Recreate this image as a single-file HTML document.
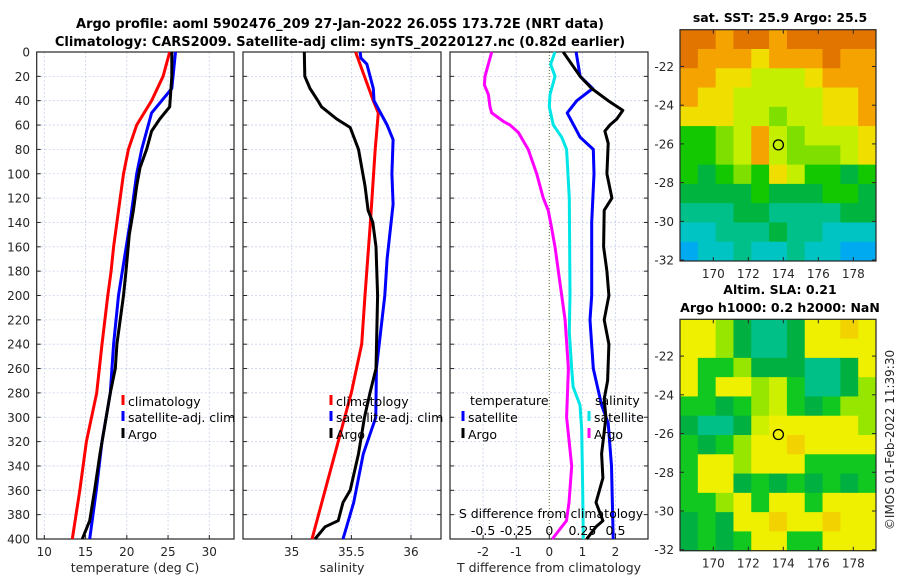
<!DOCTYPE html>
<html><head><meta charset="utf-8">
<style>
html,body{margin:0;padding:0;background:#fff;}
svg{display:block;font-family:"DejaVu Sans","Liberation Sans",sans-serif;}
</style></head>
<body>
<svg id="fig" width="900" height="580" viewBox="0 0 900 580">
<text x="340" y="28" font-size="13" font-weight="bold" text-anchor="middle">Argo profile: aoml 5902476_209 27-Jan-2022 26.05S 173.72E (NRT data)</text>
<text x="340" y="46" font-size="13" font-weight="bold" text-anchor="middle">Climatology: CARS2009. Satellite-adj clim: synTS_20220127.nc (0.82d earlier)</text>
<text x="780" y="22" font-size="12.5" font-weight="bold" text-anchor="middle">sat. SST: 25.9 Argo: 25.5</text>
<text x="780" y="294" font-size="12.5" font-weight="bold" text-anchor="middle">Altim. SLA: 0.21</text>
<text x="780" y="312" font-size="12.5" font-weight="bold" text-anchor="middle">Argo h1000: 0.2 h2000: NaN</text>
<text transform="translate(894,440) rotate(-90)" font-size="12" text-anchor="middle" fill="#262626">©IMOS 01-Feb-2022 11:39:30</text>
</svg>
<script>
// ---- data ----
const depthTicks = [0,20,40,60,80,100,120,140,160,180,200,220,240,260,280,300,320,340,360,380,400];
const tempTicks = [10,15,20,25,30];
const salTicks = [35,35.5,36];
const tdiffTicks = [-2,-1,0,1,2];
const sdiffTicks = [-0.5,-0.25,0,0.25,0.5];

const tClimDepth = [0,20,40,60,80,100,120,140,160,180,200,240,280,320,360,400];
const tClimVal   = [25.2,24.4,23.0,21.2,20.2,19.6,19.2,18.8,18.4,18.1,17.7,17.0,16.35,15.1,14.3,13.4];
const tSatDepth = [0,30,50,80,100,140,200,240,280,320,360,400];
const tSatVal   = [25.9,25.45,23.0,21.8,21.2,20.4,19.0,18.4,18.0,17.0,16.3,15.5];
const tArgoDepth = [0,20,45,55,65,80,95,110,130,150,180,200,220,240,260,280,300,330,360,385,400];
const tArgoVal   = [25.45,25.45,25.2,24.0,23.0,22.4,21.6,21.2,20.8,20.3,19.9,19.6,19.2,18.8,18.6,18.0,17.5,16.75,16.1,15.5,14.6];

const sClimDepth = [0,40,50,80,140,200,240,280,320,360,400];
const sClimVal   = [35.536,35.684,35.726,35.70,35.66,35.614,35.587,35.50,35.39,35.28,35.17];
const sSatDepth = [0,5,10,30,40,60,72,100,125,170,200,260,300,330,370,400];
const sSatVal   = [35.573,35.58,35.63,35.684,35.69,35.80,35.85,35.84,35.85,35.80,35.78,35.71,35.705,35.60,35.52,35.43];
const sArgoDepth = [0,20,30,40,45,55,62,80,110,130,140,160,200,260,280,300,330,360,370,385,390,400];
const sArgoVal   = [35.106,35.11,35.153,35.22,35.25,35.377,35.49,35.56,35.614,35.64,35.68,35.707,35.72,35.707,35.656,35.61,35.56,35.49,35.43,35.39,35.28,35.195];

const dSSatDepth = [0,10,20,35,45,60,70,80,120,200,230,260,275,290,310,360,400];
const dSSatVal   = [0.043,0.01,0.043,0.005,0.0,0.03,0.094,0.131,0.151,0.156,0.151,0.169,0.18,0.232,0.245,0.252,0.257];
const dSArgoDepth = [0,20,27,35,45,50,57,60,66,80,100,120,130,140,160,200,220,260,300,340,370,385,390,400];
const dSArgoVal   = [-0.435,-0.486,-0.49,-0.46,-0.448,-0.435,-0.347,-0.297,-0.234,-0.159,-0.095,-0.045,-0.008,0.01,0.043,0.094,0.119,0.144,0.131,0.169,0.149,0.13,0.094,0.023];
const dTSatDepth = [0,20,30,40,50,70,80,100,140,200,220,260,290,305,340,400];
const dTSatVal   = [0.81,0.93,1.31,0.83,0.54,0.93,1.33,1.35,1.28,1.28,1.23,1.33,1.58,1.78,1.88,1.93];
const dTArgoDepth = [0,20,30,40,48,55,60,65,75,100,120,130,160,180,200,220,240,270,285,300,330,350,370,385,390,400];
const dTArgoVal   = [0.42,0.93,1.28,1.78,2.22,2.04,1.83,1.68,1.78,1.74,1.89,1.66,1.64,1.74,1.8,1.66,1.8,1.76,1.66,1.71,1.58,1.62,1.41,1.62,1.41,1.13];

const lonTicks = [170,172,174,176,178];
const latTicks = [-22,-24,-26,-28,-30,-32];
const argoLon = 173.72, argoLat = -26.05;
const sstRows = ["OOoOOoOOOOO","OoooYoooOoo","ooYYyyyYooo","oYYyyyyyYYo","YYYyylyyYYo","GGlyoylyyyY","GGlyoylllyY","GgGlGYyGGgG","ggggGgggGGg","TTTggTTTTgg","CCTTTgTTCCC","BCCTCCTCCBB"];
const slaRows = ["YYlgTTgYYOY","YYlgTTgYYYY","YGGlgggTTgY","YGYYlyGTTgl","GGgGlyGgGll","gTTgyYYYYYl","GgGlYYOYYYY","GYYlYYYGGGG","GYYgGgGgGgG","GGlYGYYGYYY","gGgYYOYYOYY","gGgGYYGGYYY"];

// ---- drawing ----
const NS = "http://www.w3.org/2000/svg";
const svg = document.getElementById('fig');
function mk(tag, attrs, parent){const e=document.createElementNS(NS,tag);for(const k in attrs)e.setAttribute(k,attrs[k]);(parent||svg).appendChild(e);return e;}
const Y0=52, Y1=539;
const yD = d => Y0 + d*(Y1-Y0)/400;
const panels = [
 {x0:36.7,x1:234,sx:v=>44.3+(v-10)*8.25,ticks:tempTicks,name:'temperature-panel'},
 {x0:243,x1:441,sx:v=>291.7+(v-35)*119.3,ticks:salTicks,name:'salinity-panel'},
 {x0:450,x1:648,sx:v=>549.3+v*33.1,ticks:tdiffTicks,name:'difference-panel'}
];
const sxS = v => 549.3 + v*132.4;

panels.forEach((p,i)=>{
  const g = mk('g',{});
  
  
  depthTicks.forEach(d=>{
    const l=mk('line',{x1:p.x0,x2:p.x1,y1:yD(d),y2:yD(d),stroke:'#c9d2ec','stroke-width':0.8,'stroke-dasharray':'2,2'},g);
    
    
    mk('line',{x1:p.x0,x2:p.x0+4,y1:yD(d),y2:yD(d),stroke:'#262626','stroke-width':1},g);
    mk('line',{x1:p.x1-4,x2:p.x1,y1:yD(d),y2:yD(d),stroke:'#262626','stroke-width':1},g);
    if(i===0){const t=mk('text',{x:30,y:yD(d)+4.5,'font-size':12,'text-anchor':'end',fill:'#262626'},g);t.textContent=d;
      
      }
  });
  p.ticks.forEach(v=>{
    const x=p.sx(v);
    const l=mk('line',{x1:x,x2:x,y1:Y0,y2:Y1,stroke: (i===2&&v===0)?'#556b2f':'#c9d2ec','stroke-width':(i===2&&v===0)?1:0.8,'stroke-dasharray':(i===2&&v===0)?'1,2':'2,2'},g);
    
    
    mk('line',{x1:x,x2:x,y1:Y1-4,y2:Y1,stroke:'#262626'},g);
    const t=mk('text',{x:x,y:556,'font-size':12,'text-anchor':'middle',fill:'#262626'},g);t.textContent=v;
    
    
  });
  const r=mk('rect',{x:p.x0,y:Y0,width:p.x1-p.x0,height:Y1-Y0,fill:'none',stroke:'#262626','stroke-width':1.2},g);
  
  
});

function line(depths, vals, sx, color, name){
  const pts = depths.map((d,k)=>sx(vals[k]).toFixed(1)+','+yD(d).toFixed(1)).join(' ');
  const pl = mk('polyline',{points:pts,fill:'none',stroke:color,'stroke-width':3,'stroke-linejoin':'round'});
  
  
}
line(tClimDepth,tClimVal,panels[0].sx,'#ff0000','temp-climatology-line');
line(tSatDepth,tSatVal,panels[0].sx,'#0000ff','temp-satellite-line');
line(tArgoDepth,tArgoVal,panels[0].sx,'#000000','temp-argo-line');
line(sClimDepth,sClimVal,panels[1].sx,'#ff0000','sal-climatology-line');
line(sSatDepth,sSatVal,panels[1].sx,'#0000ff','sal-satellite-line');
line(sArgoDepth,sArgoVal,panels[1].sx,'#000000','sal-argo-line');
line(dSArgoDepth,dSArgoVal,sxS,'#ff00ff','sdiff-argo-line');
line(dSSatDepth,dSSatVal,sxS,'#00e5e5','sdiff-satellite-line');
line(dTSatDepth,dTSatVal,panels[2].sx,'#0000ff','tdiff-satellite-line');
line(dTArgoDepth,dTArgoVal,panels[2].sx,'#000000','tdiff-argo-line');

function txt(x,y,s,opts,name){const t=mk('text',Object.assign({x:x,y:y,'font-size':12.5,fill:'#000'},opts||{}));t.textContent=s;
  
  return t;}
function legendItem(x,y,color,label,name){
  mk('rect',{x:x-1.5,y:y-11,width:3,height:10,fill:color});
  txt(x+5,y,label,{},name);
}
legendItem(123,406,'#ff0000','climatology','legend-climatology');
legendItem(123,422,'#0000ff','satellite-adj. clim','legend-satellite');
legendItem(123,439,'#000000','Argo','legend-argo');
legendItem(331,406,'#ff0000','climatology','legend2-climatology');
legendItem(331,422,'#0000ff','satellite-adj. clim','legend2-satellite');
legendItem(331,439,'#000000','Argo','legend2-argo');
txt(470,405,'temperature',{},'legend-temperature-header');
legendItem(463,422,'#0000ff','satellite','legend-tdiff-satellite');
legendItem(463,439,'#000000','Argo','legend-tdiff-argo');
txt(595,405,'salinity',{},'legend-salinity-header');
legendItem(589,422,'#00e5e5','satellite','legend-sdiff-satellite');
legendItem(589,439,'#ff00ff','Argo','legend-sdiff-argo');
txt(551,518,'S difference from climatology',{'text-anchor':'middle','font-size':12.5},'s-axis-title');
sdiffTicks.forEach(v=>txt(sxS(v),535,v,{'text-anchor':'middle','font-size':12.5},'s-tick-label'));
txt(135,572,'temperature (deg C)',{'text-anchor':'middle','font-size':12.5,fill:'#262626'},'x-axis-title-temperature');
txt(342,572,'salinity',{'text-anchor':'middle','font-size':12.5,fill:'#262626'},'x-axis-title-salinity');
txt(549,572,'T difference from climatology',{'text-anchor':'middle','font-size':12.5,fill:'#262626'},'x-axis-title-tdiff');

// maps
const sstColors={O:'#e27500',o:'#f5a300',Y:'#f0de00',y:'#c4ef00',l:'#7fe000',G:'#13c800',g:'#00b440',T:'#00c08a',C:'#00c4c4',B:'#00aaf0'};
const slaColors={Y:'#eef000',O:'#f2d200',y:'#cdf000',l:'#96e600',G:'#10c820',g:'#00b040',T:'#00c088'};
function drawMap(top,bottom,rows,colors,name){
  const X0=680,X1=876;
  const g=mk('g',{});
  
  
  const lonX = lon => 713.3+(lon-170)*17.5;
  const latY = lat => top + (bottom-top)*(-20.1-lat)/11.95;
  const nr=rows.length, nc=rows[0].length, cw=(X1-X0)/nc, ch=(bottom-top)/nr;
  rows.forEach((row,r)=>{for(let c=0;c<nc;c++){mk('rect',{x:X0+c*cw,y:top+r*ch,width:cw+0.5,height:ch+0.5,fill:colors[row[c]]},g);}});
  mk('rect',{x:X0,y:top,width:X1-X0,height:bottom-top,fill:'none',stroke:'#262626','stroke-width':1.2},g);
  lonTicks.forEach(v=>{const x=lonX(v);mk('line',{x1:x,x2:x,y1:bottom-4,y2:bottom,stroke:'#262626'},g);mk('line',{x1:x,x2:x,y1:top,y2:top+4,stroke:'#262626'},g);
    const t=mk('text',{x:x,y:bottom+17,'font-size':12,'text-anchor':'middle',fill:'#262626'},g);t.textContent=v;
    
    });
  latTicks.forEach(v=>{const y=latY(v);mk('line',{x1:X0,x2:X0+4,y1:y,y2:y,stroke:'#262626'},g);mk('line',{x1:X1-4,x2:X1,y1:y,y2:y,stroke:'#262626'},g);
    const t=mk('text',{x:674,y:y+4.5,'font-size':12,'text-anchor':'end',fill:'#262626'},g);t.textContent=v;
    
    });
  const c=mk('circle',{cx:lonX(argoLon),cy:latY(argoLat),r:5,fill:'none',stroke:'#000','stroke-width':1.3},g);
  
  
}
drawMap(29.7,261,sstRows,sstColors,'sst-map');
drawMap(319.3,550.7,slaRows,slaColors,'sla-map');
</script>
</body></html>
